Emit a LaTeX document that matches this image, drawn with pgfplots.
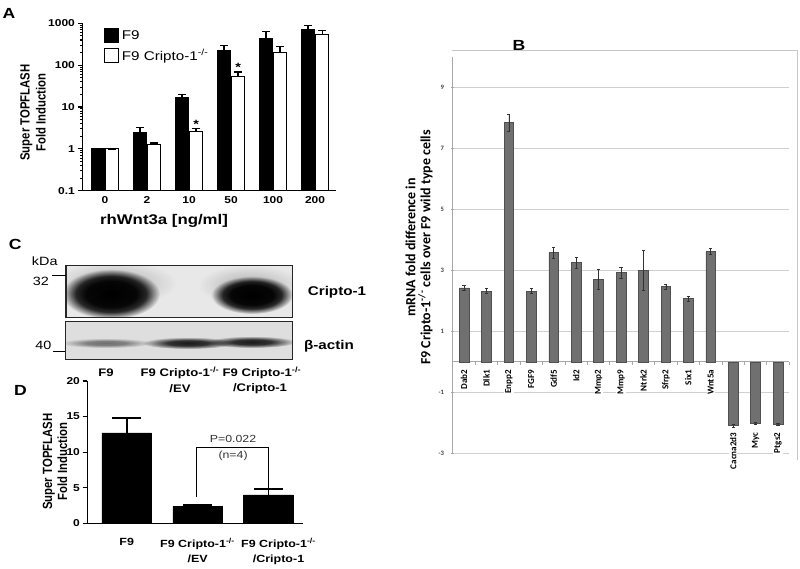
\documentclass[border=0pt]{standalone}
\usepackage{pgfplots}
\usepackage{pgfplotstable}
\pgfplotsset{compat=1.18}
\usepackage{fontspec}
\setmainfont{Liberation Sans}
\newfontfamily\hf[FakeStretch=1.2]{Liberation Sans}
\newfontfamily\vf[FakeStretch=0.85]{Liberation Sans}
\newfontfamily\cf{Carlito}
\newcommand\fs[2]{\fontsize{#1}{#2}\selectfont}

\definecolor{blotbg}{gray}{0.91}
\definecolor{blotbgb}{gray}{0.87}
\definecolor{barB}{HTML}{707070}
\definecolor{barBedge}{HTML}{505050}
\definecolor{gridB}{HTML}{D0D0D0}
\definecolor{axB}{HTML}{A8A8A8}

\pgfdeclareradialshading{blot}{\pgfpointorigin}{color(0bp)=(black); color(13bp)=(black!97!white); color(18bp)=(black!82!white); color(22bp)=(black!35!white); color(25bp)=(white); color(50bp)=(white)}
\pgfdeclareradialshading{halo}{\pgfpointorigin}{color(0bp)=(black!20!white); color(12bp)=(black!13!white); color(25bp)=(white); color(50bp)=(white)}
\pgfdeclareradialshading{bandDark}{\pgfpointorigin}{color(0bp)=(black!88!white); color(11bp)=(black!78!white); color(19bp)=(black!35!white); color(25bp)=(white); color(50bp)=(white)}
\pgfdeclareradialshading{bandLight}{\pgfpointorigin}{color(0bp)=(black!50!white); color(11bp)=(black!42!white); color(19bp)=(black!16!white); color(25bp)=(white); color(50bp)=(white)}

% Panel A data
\pgfplotstableread{
x y e
0 1.0 0.0
1 2.45 0.85
2 16.5 3.1
3 230 68
4 445 185
5 715 175
}\dataAwt
\pgfplotstableread{
x y e
0 1.0 0.0
1 1.25 0.14
2 2.55 0.52
3 54 14.5
4 206 74
5 542 134
}\dataAko
% Panel B data
\pgfplotstableread{
x y e
0 2.42 0.09
1 2.32 0.08
2 7.84 0.27
3 2.32 0.08
4 3.58 0.18
5 3.25 0.19
6 2.69 0.33
7 2.92 0.19
8 3.00 0.65
9 2.47 0.08
10 2.07 0.08
11 3.62 0.11
12 -2.09 0.05
13 -2.02 0.03
14 -2.05 0.02
}\dataB
% Panel D data
\pgfplotstableread{
x y e
0 12.7 2.1
1 2.34 0.24
2 3.99 0.84
}\dataD

\begin{document}
\begin{tikzpicture}[lblB/.style={rotate=90, anchor=east, fill=white, inner sep=0.8pt, font=\cf\bfseries\fs{6.8}{7}}]
\begin{scope}[x=0.75pt,y=-0.75pt]
  \path[use as bounding box] (0,0) rectangle (800,568);
  % panel letters
  \node[font=\hf\bfseries\fs{11}{11}] at (9,13) {A};
  \node[font=\hf\bfseries\fs{11}{11}] at (519,45) {B};
  \node[font=\hf\bfseries\fs{11}{11}] at (15.3,244) {C};
  \node[font=\hf\bfseries\fs{11}{11}] at (20.5,390) {D};
  % panel B chart frame
  \draw[gray!45, line width=0.6pt] (451.7,50.7) -- (797,50.7) -- (797,460);
  % panel C blot
  \fill[blotbg] (66,265.7) rectangle (292.3,317.7);
  \begin{scope}[blend mode=multiply]
    \clip (66,265.7) rectangle (292.3,317.7);
    \shade[shading=halo] (115,283) ellipse [x radius=62, y radius=22];
    \shade[shading=halo] (250,285) ellipse [x radius=52, y radius=20];
    \shade[shading=blot] (111,294) ellipse [x radius=49, y radius=25];
    \shade[shading=blot] (252,295) ellipse [x radius=41, y radius=19];
  \end{scope}
  \draw[line width=0.9pt, black!85] (66,265.7) rectangle (292.3,317.7);
  \fill[blotbgb] (65.3,321.7) rectangle (292.3,359.3);
  \begin{scope}[blend mode=multiply]
    \clip (65.3,321.7) rectangle (292.3,359.3);
    \shade[shading=bandLight] (106,343) ellipse [x radius=46, y radius=5];
    \shade[shading=bandDark] (188,343) ellipse [x radius=46, y radius=6];
    \shade[shading=bandDark] (252,342) ellipse [x radius=44, y radius=6];
  \end{scope}
  \draw[line width=0.9pt, black!85] (65.3,321.7) rectangle (292.3,359.3);
  \draw[line width=0.7pt] (52.3,275) -- (66,275);
  \draw[line width=0.7pt] (53,351.7) -- (65.3,351.7);
  \node[font=\hf\fs{9}{10}] at (44.8,261.7) {kDa};
  \node[font=\hf\fs{9}{10}] at (40.8,281) {32};
  \node[font=\hf\fs{9}{10}] at (43.3,345) {40};
  \node[font=\hf\bfseries\fs{9.5}{10}] at (337,292) {Cripto-1};
  \node[font=\hf\bfseries\fs{9.5}{10}] at (329,346.7) {β-actin};
  \node[font=\hf\bfseries\fs{8.2}{10}] at (106,373) {F9};
  \node[font=\hf\bfseries\fs{8.2}{10}] at (180,373) {F9 Cripto-1\textsuperscript{-/-}};
  \node[font=\hf\bfseries\fs{8.2}{10}] at (180,389) {/EV};
  \node[font=\hf\bfseries\fs{8.2}{10}] at (262,373) {F9 Cripto-1\textsuperscript{-/-}};
  \node[font=\hf\bfseries\fs{8.2}{10}] at (260,389) {/Cripto-1};
\end{scope}

% ---------------- Panel A ----------------
\begin{axis}[
  at={(61.725pt,-143.025pt)}, anchor=south west,
  scale only axis, width=190.3pt, height=125.55pt,
  ymode=log, ymin=0.1, ymax=1000, log origin=infty,
  xmin=-0.54, xmax=5.5,
  axis x line=bottom, axis y line=left,
  axis line style={-, line width=1.1pt},
  ybar,
  xtick={0,...,5}, xticklabels={0,2,10,50,100,200},
  major x tick style={draw=none},
  ytick={0.1,1,10,100,1000}, yticklabels={0.1,1,10,100,1000},
  minor ytick={0.2,0.3,0.4,0.5,0.6,0.7,0.8,0.9,2,3,4,5,6,7,8,9,20,30,40,50,60,70,80,90,200,300,400,500,600,700,800,900},
  tick align=outside, major tick length=3.5pt, minor tick length=1.8pt,
  tick style={line width=0.8pt, black},
  /pgf/number format/assume math mode=true,
  ticklabel style={font=\hf\bfseries\fs{7.5}{9}},
  yticklabel style={xshift=1.5pt},
  xticklabel style={yshift=2.5pt},
  xlabel={rhWnt3a [ng/ml]},
  xlabel style={font=\hf\bfseries\fs{10.5}{12}, at={(axis description cs:0.322,-0.181)}, anchor=center},
  ylabel={Super TOPFLASH\\Fold Induction},
  ylabel style={font=\vf\bfseries\fs{10}{12}, align=center, at={(axis description cs:-0.194,0.467)}, anchor=center},
  legend style={at={(axis description cs:0.085,0.975)}, anchor=north west, draw=none, fill=none, inner sep=0pt, row sep=1.5pt, font=\hf\fs{9.5}{11}},
  legend cell align=left,
  sqleg/.style={legend image code/.code={\draw[##1, line width=0.8pt] (0pt,-5.25pt) rectangle (10.5pt,5.25pt);}},
]
\addplot[sqleg, bar width=0.3, bar shift=-0.17, fill=black, draw=black, line width=0.8pt,
  error bars/.cd, y dir=plus, y explicit,
  error bar style={line width=1pt, black},
  error mark options={rotate=90, mark size=3pt, line width=1pt, black}]
  table[x=x, y=y, y error=e] {\dataAwt};
\addlegendentry{F9}
\addplot[sqleg, bar width=0.3, bar shift=0.17, fill=white, draw=black, line width=0.8pt,
  error bars/.cd, y dir=plus, y explicit,
  error bar style={line width=1pt, black},
  error mark options={rotate=90, mark size=3pt, line width=1pt, black}]
  table[x=x, y=y, y error=e] {\dataAko};
\addlegendentry{F9 Cripto-1\textsuperscript{-/-}}
\node[font=\hf\bfseries\fs{9}{9}] at (axis cs:2.17,3.9) {*};
\node[font=\hf\bfseries\fs{9}{9}] at (axis cs:3.17,88) {*};
\end{axis}

% ---------------- Panel B ----------------
\begin{axis}[
  at={(339.6pt,-339.975pt)}, anchor=south west,
  scale only axis, width=252.3pt, height=297.45pt,
  xmin=-0.5, xmax=14.5, ymin=-3, ymax=10,
  clip=false,
  axis y line=left, axis x line=none,
  axis line style={-, draw=axB, line width=0.6pt},
  ybar, bar width=0.43,
  xtick=\empty,
  ytick={-3,-1,1,3,5,7,9},
  yticklabels={-3,-1,1,3,5,7,9},
  tick align=center, major tick length=2pt,
  tick style={axB, line width=0.5pt},
  ymajorgrids, major grid style={gridB, line width=0.6pt},
  extra y ticks={0}, extra y tick labels={},
  extra y tick style={major tick length=0pt, major grid style={axB, line width=0.6pt}},
  /pgf/number format/assume math mode=true,
  yticklabel style={font=\cf\bfseries\fs{5}{5}, text=black!75, xshift=-2pt},
  ylabel={mRNA fold difference in\\F9 Cripto-1\textsuperscript{-/-} cells over F9 wild type cells},
  ylabel style={font=\cf\bfseries\fs{10.5}{11.25}, align=center, at={(axis description cs:-0.1005,0.519)}, anchor=center},
]
\addplot[fill=barB, draw=barBedge, line width=0.4pt,
  error bars/.cd, y dir=both, y explicit,
  error bar style={line width=0.5pt, black!80},
  error mark options={rotate=90, mark size=1.2pt, line width=0.5pt, black!80}]
  table[x=x, y=y, y error=e] {\dataB};
\pgfplotsinvokeforeach{-0.5,0.5,1.5,2.5,3.5,4.5,5.5,6.5,7.5,8.5,9.5,10.5,11.5,12.5,13.5,14.5}{
  \draw[axB, line width=0.5pt] (axis cs:#1,0) -- ++(0pt,-2.2pt);
}
\node[lblB] at (axis cs:0,-0.22) {Dab2};
\node[lblB] at (axis cs:1,-0.22) {Dlk1};
\node[lblB] at (axis cs:2,-0.22) {Enpp2};
\node[lblB] at (axis cs:3,-0.22) {FGF9};
\node[lblB] at (axis cs:4,-0.22) {Gdf5};
\node[lblB] at (axis cs:5,-0.22) {Id2};
\node[lblB] at (axis cs:6,-0.22) {Mmp2};
\node[lblB] at (axis cs:7,-0.22) {Mmp9};
\node[lblB] at (axis cs:8,-0.22) {Ntrk2};
\node[lblB] at (axis cs:9,-0.22) {Sfrp2};
\node[lblB] at (axis cs:10,-0.22) {Six1};
\node[lblB] at (axis cs:11,-0.22) {Wnt5a};
\node[lblB] at (axis cs:12,-2.28) {Cacna2d3};
\node[lblB] at (axis cs:13,-2.28) {Myc};
\node[lblB] at (axis cs:14,-2.28) {Ptgs2};
\end{axis}

% ---------------- Panel D ----------------
\begin{axis}[
  at={(65.475pt,-392.475pt)}, anchor=south west,
  scale only axis, width=162pt, height=106.725pt,
  xmin=-0.555, xmax=2.49, ymin=0, ymax=20,
  axis x line=bottom, axis y line=left,
  axis line style={-, line width=1.1pt},
  ybar, bar width=0.70,
  xtick={0,1,2},
  xticklabels={F9,{F9 Cripto-1\textsuperscript{-/-}\\/EV},{\hspace*{15pt}F9 Cripto-1\textsuperscript{-/-}\\\hspace*{15pt}/Cripto-1}},
  major x tick style={draw=none},
  xticklabel style={align=center, font=\hf\bfseries\fs{7.8}{11.25}, yshift=-4pt},
  ytick={0,5,10,15,20},
  tick align=outside, major tick length=3.5pt,
  tick style={line width=0.8pt, black},
  /pgf/number format/assume math mode=true,
  yticklabel style={font=\hf\bfseries\fs{7.5}{9}, xshift=1.5pt},
  ylabel={Super TOPFLASH\\Fold Induction},
  ylabel style={font=\vf\bfseries\fs{10}{11.25}, align=center, at={(axis description cs:-0.1495,0.433)}, anchor=center},
]
\addplot[fill=black, draw=black,
  error bars/.cd, y dir=plus, y explicit,
  error bar style={line width=1.3pt, black},
  error mark options={rotate=90, mark size=11pt, line width=1.3pt, black}]
  table[x=x, y=y, y error=e] {\dataD};
\draw[line width=0.6pt] (axis cs:0.986,3.75) -- (axis cs:0.986,10.65) -- (axis cs:1.994,10.65) -- (axis cs:1.994,4.95);
\node[font=\hf\fs{7.7}{9}, text=black!80] at (axis cs:1.5,11.85) {P=0.022};
\node[font=\hf\fs{7.7}{9}, text=black!80] at (axis cs:1.5,9.5) {(n=4)};
\end{axis}
\end{tikzpicture}
\end{document}
